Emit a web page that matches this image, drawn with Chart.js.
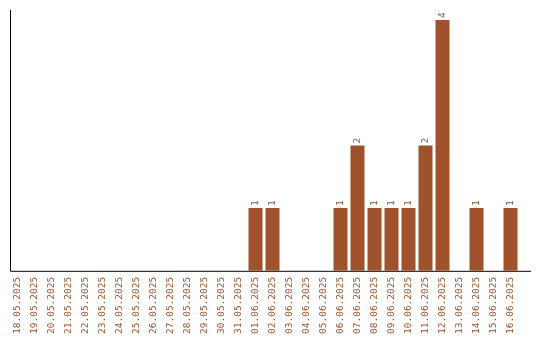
<!DOCTYPE html>
<html>
<head>
<meta charset="utf-8">
<script src="https://cdn.jsdelivr.net/npm/chart.js@4"></script>
<style>
  html, body { margin: 0; padding: 0; background: #fff; }
  #wrap { width: 540px; height: 340px; }
</style>
</head>
<body>
<div id="wrap"><canvas id="barChart" width="540" height="340"></canvas></div>
<script>
const dates = [
    '18.05.2025', '19.05.2025', '20.05.2025', '21.05.2025', '22.05.2025',
    '23.05.2025', '24.05.2025', '25.05.2025', '26.05.2025', '27.05.2025',
    '28.05.2025', '29.05.2025', '30.05.2025', '31.05.2025', '01.06.2025',
    '02.06.2025', '03.06.2025', '04.06.2025', '05.06.2025', '06.06.2025',
    '07.06.2025', '08.06.2025', '09.06.2025', '10.06.2025', '11.06.2025',
    '12.06.2025', '13.06.2025', '14.06.2025', '15.06.2025', '16.06.2025'
];
const counts = [
    0, 0, 0, 0, 0, 0, 0, 0, 0, 0,
    0, 0, 0, 0, 1, 1, 0, 0, 0, 1,
    2, 1, 1, 1, 2, 4, 0, 1, 0, 1
];

const brown = '#a0522d';
const fontFamily = "'DejaVu Sans Mono', monospace";

// eixos desenhados à mão (linha horizontal passa um pouco do último dia)
const axesPlugin = {
    id: 'axes',
    afterDatasetsDraw(chart) {
        const { ctx, chartArea } = chart;
        ctx.save();
        ctx.strokeStyle = '#000';
        ctx.lineWidth = 1;
        ctx.beginPath();
        ctx.moveTo(chartArea.left + 1.5, chartArea.top);
        ctx.lineTo(chartArea.left + 1.5, chartArea.bottom + 0.5);
        ctx.lineTo(chartArea.right + 12, chartArea.bottom + 0.5);
        ctx.stroke();
        ctx.restore();
    }
};

// valores em cima das barras, rodados
const valueLabels = {
    id: 'valueLabels',
    afterDatasetsDraw(chart) {
        const { ctx } = chart;
        const meta = chart.getDatasetMeta(0);
        ctx.save();
        ctx.fillStyle = brown;
        ctx.font = '9.5px ' + fontFamily;
        ctx.textAlign = 'left';
        ctx.textBaseline = 'middle';
        meta.data.forEach((bar, i) => {
            const v = counts[i];
            if (!v) return;
            ctx.save();
            ctx.translate(bar.x, bar.y - 2);
            ctx.rotate(-Math.PI / 2);
            ctx.fillText(String(v), 0, 0);
            ctx.restore();
        });
        ctx.restore();
    }
};

const ctx = document.getElementById('barChart').getContext('2d');
new Chart(ctx, {
    type: 'bar',
    data: {
        labels: dates,
        datasets: [{
            data: counts,
            backgroundColor: brown,
            borderWidth: 0,
            categoryPercentage: 1,
            barPercentage: 14 / 17
        }]
    },
    options: {
        responsive: false,
        animation: false,
        layout: { padding: { left: 9, right: 21, top: 10, bottom: 0 } },
        plugins: {
            legend: { display: false },
            tooltip: { enabled: false }
        },
        scales: {
            x: {
                grid: { display: false, drawTicks: false },
                border: { display: false },
                ticks: {
                    color: brown,
                    font: { family: fontFamily, size: 9.5 },
                    minRotation: 90,
                    maxRotation: 90,
                    autoSkip: false,
                    padding: 6
                }
            },
            y: {
                display: false,
                min: 0,
                max: 4.16
            }
        }
    },
    plugins: [axesPlugin, valueLabels]
});
</script>
</body>
</html>
